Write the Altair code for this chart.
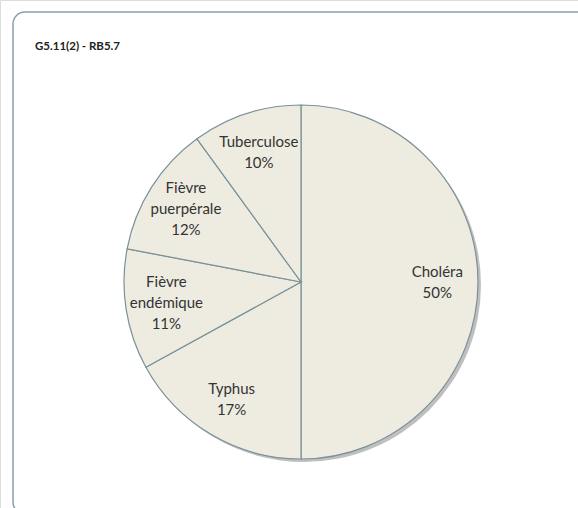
import altair as alt
import pandas as pd

# Data
categories = ["Choléra", "Typhus", "Fièvre endémique", "Fièvre puerpérale", "Tuberculose"]
labels = ["Choléra\n50%", "Typhus\n17%", "Fièvre\nendémique\n11%", "Fièvre\npuerpérale\n12%", "Tuberculose\n10%"]
values = [50, 17, 11, 12, 10]
order = [1, 2, 3, 4, 5]
title_text = "G5.11(2) - RB5.7"

df = pd.DataFrame({"cat": categories, "label": labels, "value": values, "ord": order})
nlines = df["label"].str.count("\n") + 1
df["label2"] = [l if n == 2 else "" for l, n in zip(df["label"], nlines)]
df["label3"] = [l if n == 3 else "" for l, n in zip(df["label"], nlines)]

W, H = 578, 508
CX, CY = 301, 282
R = 177
LH = 21

base = alt.Chart(df).encode(
    theta=alt.Theta("value:Q", stack=True),
    order=alt.Order("ord:Q"),
)

frame = alt.Chart(pd.DataFrame({"t": [0]})).mark_rect(
    fill="white", stroke="#86a0a6", strokeWidth=1.5, cornerRadius=12
).encode(
    x=alt.value(13), x2=alt.value(W + 30), y=alt.value(12), y2=alt.value(H + 6)
)

shadow = base.mark_arc(outerRadius=R, fill="#707070", opacity=0.45, stroke=None).encode(
    x=alt.value(CX + 3), y=alt.value(CY + 3)
)

pie = base.mark_arc(
    outerRadius=R, fill="#EEECE1", stroke="#7a9198", strokeWidth=1.2
).encode(x=alt.value(CX), y=alt.value(CY))

text_props = dict(radius=R * 0.77, font="Lato", fontSize=15, color="#333333",
                  lineBreak="\n", lineHeight=LH, align="center", baseline="middle")

text2 = base.mark_text(dy=-LH / 2, **text_props).encode(
    x=alt.value(CX), y=alt.value(CY), text="label2:N")
text3 = base.mark_text(dy=-LH, **text_props).encode(
    x=alt.value(CX), y=alt.value(CY), text="label3:N")

title = alt.Chart(pd.DataFrame({"t": [title_text]})).mark_text(
    font="Lato", fontSize=11.5, fontWeight="bold", color="#222222",
    align="left", baseline="middle"
).encode(x=alt.value(35), y=alt.value(47), text="t:N")

chart = alt.layer(frame, shadow, pie, text2, text3, title).properties(
    width=W, height=H, padding=0, autosize=alt.AutoSizeParams(type="none")
).configure_view(stroke=None).configure(background="white")

chart.save("out.html", embed_options={"renderer": "svg", "actions": False})
